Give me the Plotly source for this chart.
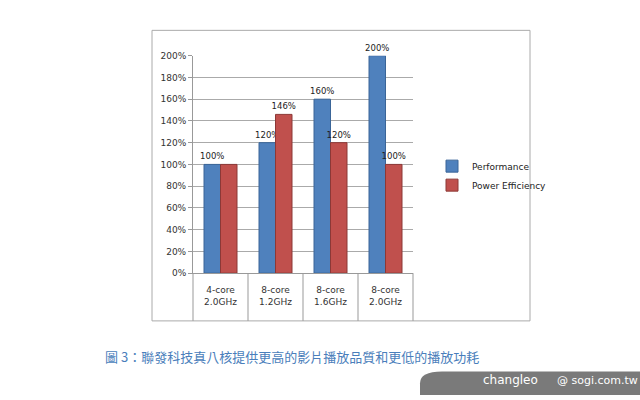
import plotly.graph_objects as go

categories = ["4-core<br>2.0GHz", "8-core<br>1.2GHz", "8-core<br>1.6GHz", "8-core<br>2.0GHz"]
performance = [1.00, 1.20, 1.60, 2.00]
efficiency = [1.00, 1.46, 1.20, 1.00]
series_names = ["Performance", "Power Efficiency"]

def labels(v):
    return [f"{round(x*100)}%" for x in v]

eff_labels = labels(efficiency)
eff_labels[0] = ""  # hidden behind the Performance label in the original

fig = go.Figure()
fig.add_bar(x=categories, y=performance, name=series_names[0], marker=dict(color="#4f81bd", line=dict(color="#3a6598", width=1)),
            text=labels(performance), textposition="outside", constraintext="none",
            textfont=dict(size=8.5, color="#222"), cliponaxis=False)
fig.add_bar(x=categories, y=efficiency, name=series_names[1], marker=dict(color="#c0504d", line=dict(color="#8c3836", width=1)),
            text=eff_labels, textposition="outside", constraintext="none",
            textfont=dict(size=8.5, color="#222"), cliponaxis=False)

fig.update_layout(
    width=640, height=400, margin=dict(l=0, r=0, t=0, b=0),
    paper_bgcolor="white", plot_bgcolor="white",
    font=dict(family="DejaVu Sans", size=9, color="#333"),
    barmode="group", bargap=0.4, bargroupgap=0,
    showlegend=True,
    legend=dict(x=432/640, y=1-175/400, xanchor="left", yanchor="middle", font=dict(size=9, color="#222"),
                bgcolor="rgba(0,0,0,0)", tracegroupgap=4, itemwidth=30),
    xaxis=dict(domain=[193/640, 413/640], showgrid=False, showline=True, linecolor="#999",
               tickfont=dict(size=9, color="#333"), ticks="", ticklabelstandoff=8),
    yaxis=dict(domain=[1-275/400, 1-52/400], range=[0, 2.0], dtick=0.2, tickformat=".0%",
               showgrid=True, gridcolor="#aaa", gridwidth=1, showline=True, linecolor="#999",
               ticks="outside", ticklen=4, tickcolor="#999", tickfont=dict(size=9, color="#333")),
)

shapes = [
    dict(type="rect", xref="paper", yref="paper", x0=152/640, x1=530/640, y0=1-324/400, y1=1-26/400,
         line=dict(color="#aaa", width=1), layer="below"),
    dict(type="line", xref="paper", yref="paper", x0=193/640, x1=193/640, y0=1-324/400, y1=1-275/400, line=dict(color="#999", width=1)),
]
for i in range(1, 5):
    xp = (193 + 55*i)/640
    shapes.append(dict(type="line", xref="paper", yref="paper", x0=xp, x1=xp, y0=1-324/400, y1=1-275/400, line=dict(color="#999", width=1)))
shapes.append(dict(type="path", xref="paper", yref="paper",
                   path=f"M {420/640},0 L {420/640},{12/400} Q {420/640},{24/400} {442/640},{24/400} L 1,{24/400} L 1,0 Z",
                   fillcolor="#7a7a7a", line=dict(width=0)))
fig.update_layout(shapes=shapes)

fig.add_annotation(xref="paper", yref="paper", x=103/640, y=1-361/400, xanchor="left", yanchor="middle",
                   text="圖 3：聯發科技真八核提供更高的影片播放品質和更低的播放功耗", showarrow=False,
                   font=dict(family="Noto Sans CJK TC", size=13, color="#4a7ebb"))
fig.add_annotation(xref="paper", yref="paper", x=540/640, y=1-385/400, xanchor="right", yanchor="middle",
                   text="changleo", showarrow=False,
                   font=dict(family="DejaVu Sans", size=12, color="white"))
fig.add_annotation(xref="paper", yref="paper", x=555/640, y=1-385/400, xanchor="left", yanchor="middle",
                   text="@ sogi.com.tw", showarrow=False,
                   font=dict(family="DejaVu Sans", size=11, color="white"))

fig.write_html("out.html", config={"displayModeBar": False},
               post_script="document.body.style.margin='0';document.body.style.overflow='hidden';")
